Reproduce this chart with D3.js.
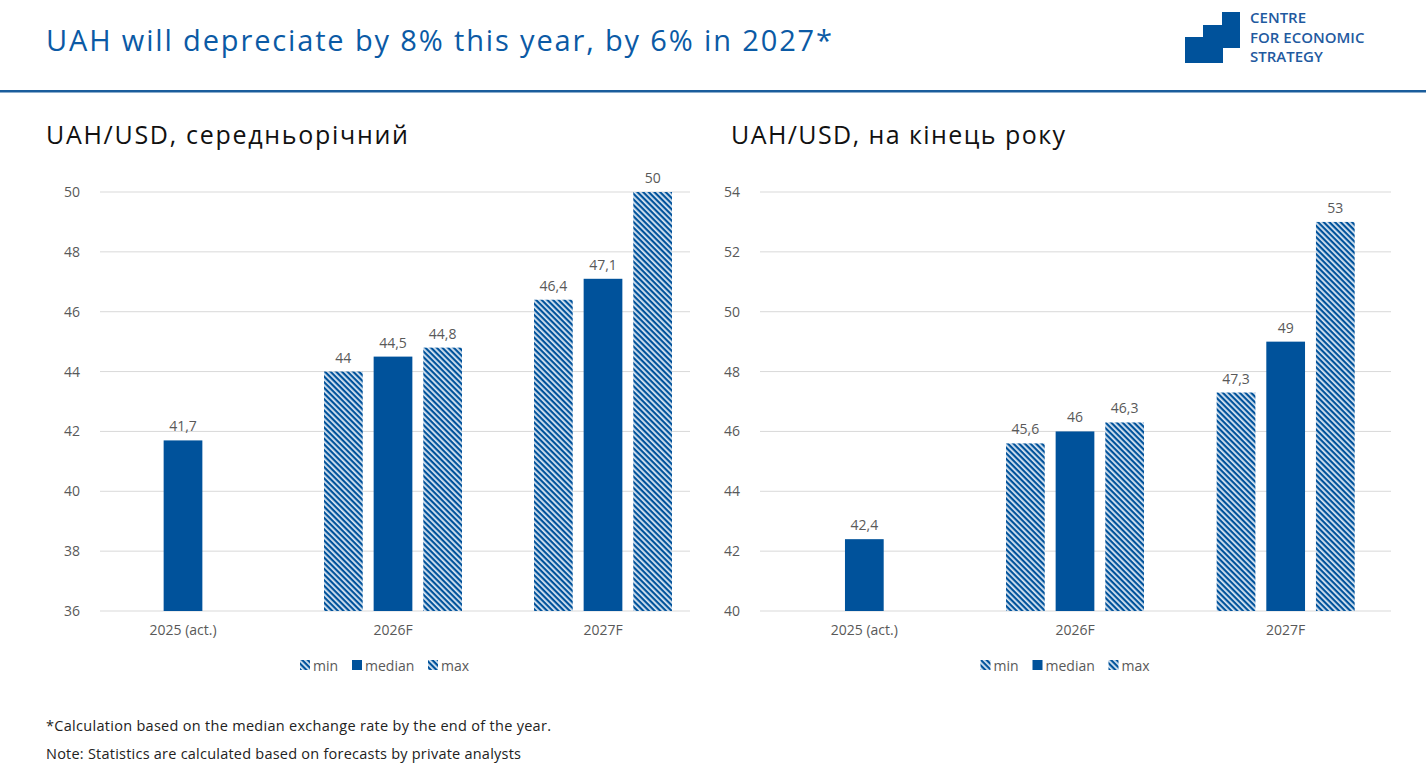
<!DOCTYPE html>
<html><head><meta charset="utf-8">
<script src="https://cdn.jsdelivr.net/npm/d3@7"></script>
<style>
body{margin:0;background:#fff;font-family:"Open Sans","Noto Sans",sans-serif}
</style></head>
<body><svg id="body" width="1426" height="768"></svg>
<script>
let categories = ["2025 (act.)", "2026F", "2027F"]
let series = ["min", "median", "max"]
// null = no bar
let avgMin = [null, 44, 46.4]
let avgMedian = [41.7, 44.5, 47.1]
let avgMax = [null, 44.8, 50]
let endMin = [null, 45.6, 47.3]
let endMedian = [42.4, 46, 49]
let endMax = [null, 46.3, 53]
let avgTicks = [36, 38, 40, 42, 44, 46, 48, 50]
let endTicks = [40, 42, 44, 46, 48, 50, 52, 54]

let blue = "#00529b"
let grey = "#595959"
let svg = d3.select("#body")

let defs = svg.append("defs")
let pat = defs.append("pattern").attr("id", "hatch").attr("patternUnits", "userSpaceOnUse")
  .attr("width", 4).attr("height", 4).attr("patternTransform", "rotate(45)")
pat.append("rect").attr("width", 4).attr("height", 4).attr("fill", "#dbe7f3")
pat.append("rect").attr("width", 4).attr("height", 2.2).attr("fill", blue)

// header
svg.append("text").attr("x", 46).attr("y", 51).attr("fill", "#0b5aa5")
  .attr("font-size", 29).attr("textLength", 786).text("UAH will depreciate by 8% this year, by 6% in 2027*")
svg.append("path").attr("fill", blue)
  .attr("d", "M1222,12H1240V48H1223V63H1185V37H1203V25H1222Z")
let logo = ["CENTRE", "FOR ECONOMIC", "STRATEGY"]
svg.selectAll(".logo").data(logo).enter().append("text")
  .attr("x", 1250).attr("y", (d, i) => 23 + i * 19.5).attr("fill", "#1f5aa0")
  .attr("font-size", 15).attr("font-weight", 600).text(d => d)
svg.append("rect").attr("x", 0).attr("y", 90).attr("width", 1426).attr("height", 2.5).attr("fill", "#1a5d9c")

function chart(title, gx0, gx1, bx0, bx1, ticks, vals, tx, tw) {
  let top = 192, bottom = 611
  svg.append("text").attr("x", tx).attr("y", 144).attr("font-size", 25).attr("fill", "#111")
    .attr("textLength", tw).text(title)
  let y = d3.scaleLinear().domain([ticks[0], ticks[ticks.length - 1]]).range([bottom, top])
  let x = d3.scaleBand().domain(categories).range([bx0, bx1])
  let inner = d3.scaleBand().domain(series).range([x.bandwidth() / 2 - 69, x.bandwidth() / 2 + 69]).paddingInner(0.22)
  let g = svg.append("g")
  g.selectAll(".grid").data(ticks).enter().append("line")
    .attr("x1", gx0).attr("x2", gx1).attr("y1", d => y(d)).attr("y2", d => y(d))
    .attr("stroke", "#d9d9d9")
  let yAxis = d3.axisLeft(y).tickValues(ticks).tickSize(0).tickPadding(20)
  g.append("g").attr("transform", `translate(${gx0},0)`).call(yAxis)
    .call(a => a.select(".domain").remove())
    .selectAll("text").attr("fill", grey).attr("font-size", 14).attr("font-family", "Open Sans")
  let xAxis = d3.axisBottom(x).tickSize(0).tickPadding(14)
  g.append("g").attr("transform", `translate(0,${bottom})`).call(xAxis)
    .call(a => a.select(".domain").remove())
    .selectAll("text").attr("fill", grey).attr("font-size", 14).attr("font-family", "Open Sans")
  let rows = []
  series.forEach((s, si) => categories.forEach((c, ci) => {
    if (vals[si][ci] != null) rows.push({s, c, v: vals[si][ci]})
  }))
  g.selectAll(".bar").data(rows).enter().append("rect")
    .attr("x", d => x(d.c) + inner(d.s)).attr("width", inner.bandwidth())
    .attr("y", d => y(d.v)).attr("height", d => bottom - y(d.v))
    .attr("fill", d => d.s == "median" ? blue : "url(#hatch)")
  g.selectAll(".lab").data(rows).enter().append("text")
    .attr("x", d => x(d.c) + inner(d.s) + inner.bandwidth() / 2).attr("y", d => y(d.v) - 9)
    .attr("text-anchor", "middle").attr("font-size", 14).attr("fill", grey)
    .text(d => String(d.v).replace(".", ","))
  // legend
  let lx = (gx0 + gx1) / 2 - 95
  let offs = [0, 52, 128]
  series.forEach((s, i) => {
    g.append("rect").attr("x", lx + offs[i]).attr("y", 660).attr("width", 10).attr("height", 10)
      .attr("fill", s == "median" ? blue : "url(#hatch)")
    g.append("text").attr("x", lx + offs[i] + 13).attr("y", 671).attr("font-size", 14).attr("fill", grey).text(s)
  })
}

chart("UAH/USD, середньорічний", 100, 690, 78, 708, avgTicks, [avgMin, avgMedian, avgMax], 46, 362)
chart("UAH/USD, на кінець року", 760, 1391, 759, 1391, endTicks, [endMin, endMedian, endMax], 731, 334)

svg.append("text").attr("x", 46).attr("y", 731).attr("font-size", 14.5).attr("fill", "#222")
  .attr("textLength", 505).text("*Calculation based on the median exchange rate by the end of the year.")
svg.append("text").attr("x", 46).attr("y", 759).attr("font-size", 14.5).attr("fill", "#222")
  .attr("textLength", 475).text("Note: Statistics are calculated based on forecasts by private analysts")
</script></body></html>
